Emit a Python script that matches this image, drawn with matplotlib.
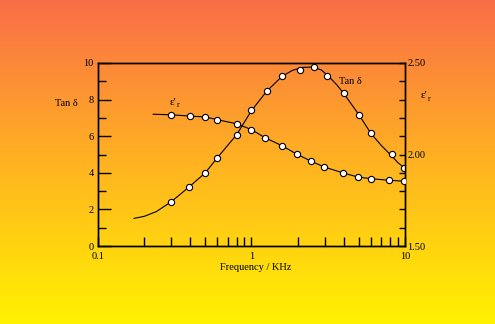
import numpy as np
import matplotlib
matplotlib.use('Agg')
import matplotlib.pyplot as plt
from matplotlib.colors import LinearSegmentedColormap
from matplotlib.ticker import FixedLocator, FixedFormatter, MultipleLocator, LogLocator, NullFormatter

plt.rcParams['font.family'] = ['Liberation Serif', 'DejaVu Serif']

# --- data ---
# Tan delta (left axis)
f_tan = [0.30, 0.39, 0.50, 0.60, 0.80, 1.00, 1.26, 1.58, 2.06, 2.57, 3.12, 4.02, 5.04, 6.00, 8.19, 9.90]
tan_d = [2.42, 3.21, 4.00, 4.83, 6.08, 7.43, 8.47, 9.31, 9.64, 9.77, 9.31, 8.34, 7.14, 6.17, 5.01, 4.25]
# fitted curve through tan delta
f_tan_fit = [0.172, 0.20, 0.24, 0.30, 0.39, 0.50, 0.60, 0.80, 1.00, 1.26, 1.58, 1.85, 2.15,
             2.50, 2.85, 3.20, 3.60, 4.02, 5.04, 6.00, 7.00, 8.19, 9.00, 10.0]
tan_fit = [1.51, 1.62, 1.88, 2.42, 3.21, 4.00, 4.83, 6.08, 7.40, 8.47, 9.27, 9.60, 9.76,
           9.78, 9.62, 9.25, 8.80, 8.30, 7.14, 6.15, 5.50, 4.92, 4.55, 4.25]

# epsilon'_r (right axis)
f_eps = [0.30, 0.40, 0.50, 0.60, 0.80, 1.00, 1.23, 1.58, 1.98, 2.44, 2.97, 3.93, 4.92, 5.98, 7.90, 9.90]
eps_r = [2.217, 2.210, 2.205, 2.190, 2.168, 2.136, 2.091, 2.048, 2.001, 1.964, 1.932, 1.900,
         1.877, 1.868, 1.859, 1.854]
f_eps_fit = [0.229] + f_eps
eps_fit = [2.220] + eps_r

W, H = 495, 324
fig = plt.figure(figsize=(W / 100, H / 100), dpi=100)

# background gradient (red-orange top -> yellow bottom)
bg = fig.add_axes([0, 0, 1, 1])
cmap = LinearSegmentedColormap.from_list('bg', [(1.0, 0.95, 0.0), (1.0, 0.70, 0.13), (0.98, 0.43, 0.28)])
bg.imshow(np.linspace(0, 1, 256).reshape(-1, 1), aspect='auto', cmap=cmap, origin='lower',
          extent=[0, 1, 0, 1])
bg.set_axis_off()

ax = fig.add_axes([98 / W, 1 - 246 / H, (405 - 98) / W, (246 - 63) / H])
ax.patch.set_alpha(0)
ax2 = ax.twinx()

lw = 0.8
mk = dict(marker='o', ms=4.5, mfc='white', mec='black', mew=0.8, ls='none', zorder=5)

ax.plot(f_tan_fit, tan_fit, color='black', lw=lw)
ax.plot(f_tan, tan_d, **mk)
ax2.plot(f_eps_fit, eps_fit, color='black', lw=lw)
ax2.plot(f_eps, eps_r, **mk)

ax.set_xscale('log')
ax.set_xlim(0.1, 10)
ax.set_ylim(0, 10)
ax2.set_ylim(1.5, 2.5)

for a in (ax, ax2):
    for s in a.spines.values():
        s.set_linewidth(1.0)

ax.xaxis.set_major_locator(FixedLocator([0.1, 1, 10]))
ax.xaxis.set_major_formatter(FixedFormatter(['0.1', '1', '10']))
ax.xaxis.set_minor_locator(LogLocator(base=10, subs=np.arange(2, 10)))
ax.xaxis.set_minor_formatter(NullFormatter())
ax.tick_params(axis='x', which='both', direction='in', length=6.5, width=1.0,
               labelsize=7.5, pad=4, top=False)

ax.yaxis.set_major_locator(MultipleLocator(2))
ax.yaxis.set_minor_locator(MultipleLocator(1))
ax.tick_params(axis='y', which='major', direction='in', length=9.4, width=1.0, labelsize=7.5, pad=3)
ax.tick_params(axis='y', which='minor', direction='in', length=5.8, width=1.0)

ax2.yaxis.set_major_locator(FixedLocator([1.5, 2.0, 2.5]))
ax2.yaxis.set_major_formatter(FixedFormatter(['1.50', '2.00', '2.50']))
ax2.yaxis.set_minor_locator(MultipleLocator(0.1))
ax2.tick_params(axis='y', which='both', direction='in', length=4.3, width=1.0, labelsize=7.5, pad=1.5)


def eps_label(x, y):
    # epsilon prime with small subscript r
    fig.text(x / W, 1 - y / H, "ε'", fontsize=8, ha='right', va='center')
    fig.text((x + 0.5) / W, 1 - (y + 3) / H, "r", fontsize=5.5, ha='left', va='center')


# labels
fig.text(66 / W, 1 - 103 / H, 'Tan δ', fontsize=7.5, ha='center', va='center')
eps_label(176, 102)
eps_label(427, 96)
fig.text(350 / W, 1 - 82 / H, 'Tan δ', fontsize=7.5, ha='center', va='center')
fig.text(256 / W, 1 - 268 / H, 'Frequency / KHz', fontsize=7.5, ha='center', va='center')

fig.savefig('out.png', dpi=100)
